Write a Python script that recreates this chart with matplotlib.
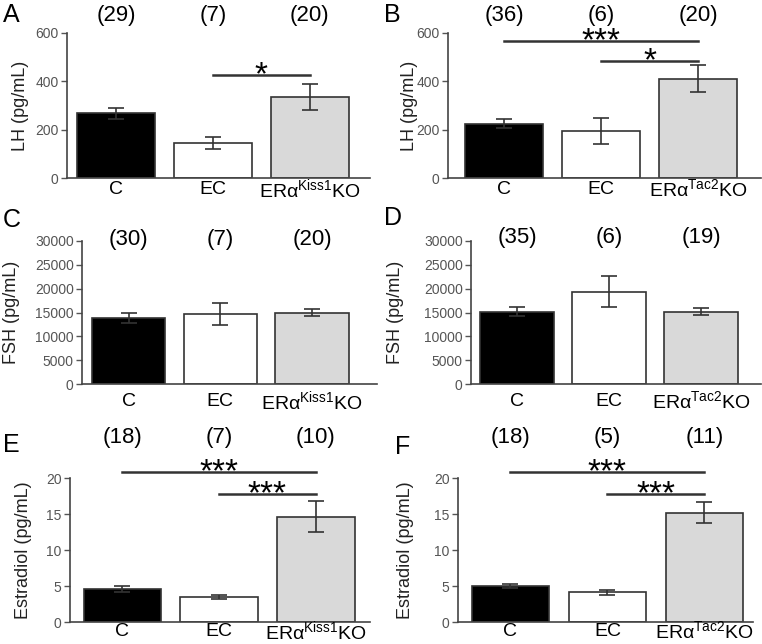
import matplotlib
matplotlib.use('Agg')
import matplotlib.pyplot as plt

plt.rcParams['font.family'] = ['Liberation Sans', 'DejaVu Sans']
plt.rcParams['mathtext.fontset'] = 'custom'
plt.rcParams['mathtext.rm'] = 'Liberation Sans'

W, H = 762, 644

labels_kiss = ['C', 'EC', 'ERα$^{\\mathregular{Kiss1}}$KO']
labels_tac = ['C', 'EC', 'ERα$^{\\mathregular{Tac2}}$KO']

lh_kiss = [268, 143, 335]
lh_kiss_err = [22, 25, 53]
lh_kiss_n = [29, 7, 20]

lh_tac = [225, 195, 410]
lh_tac_err = [18, 55, 56]
lh_tac_n = [36, 6, 20]

fsh_kiss = [13800, 14600, 15000]
fsh_kiss_err = [1000, 2300, 800]
fsh_kiss_n = [30, 7, 20]

fsh_tac = [15200, 19400, 15200]
fsh_tac_err = [900, 3350, 800]
fsh_tac_n = [35, 6, 19]

e2_kiss = [4.6, 3.45, 14.6]
e2_kiss_err = [0.4, 0.25, 2.15]
e2_kiss_n = [18, 7, 10]

e2_tac = [5.0, 4.15, 15.2]
e2_tac_err = [0.25, 0.35, 1.5]
e2_tac_n = [18, 5, 11]

# (from bar, to bar, height, stars)
sig_lh_kiss = [(1, 2, 426, '*')]
sig_lh_tac = [(0, 2, 567, '***'), (1, 2, 484, '*')]
sig_e2_kiss = [(0, 2, 20.8, '***'), (1, 2, 17.8, '***')]
sig_e2_tac = [(0, 2, 20.8, '***'), (1, 2, 17.8, '***')]

colors = ['black', 'white', '#d9d9d9']
edge = '#333333'
tick_gray = '#555555'

fig = plt.figure(figsize=(W / 100, H / 100), dpi=100)


def panel(letter, box, xlim, ymax, yticks, ylabel, ylab_x, vals, errs, ns, names,
          sigs, n_y, letter_xy, xlab_y):
    left, right, y0, ytop = box
    ax = fig.add_axes([left / W, 1 - y0 / H, (right - left) / W, (y0 - ytop) / H])
    x = range(len(vals))
    ax.bar(x, vals, width=0.8, color=colors, edgecolor=edge, linewidth=1.2, zorder=2)
    ax.errorbar(x, vals, yerr=errs, fmt='none', ecolor=edge, elinewidth=1.2,
                capsize=6, capthick=1.2, zorder=3)
    ax.set_xlim(*xlim)
    ax.set_ylim(0, ymax)
    ax.set_yticks(yticks)
    ax.set_xticks([])
    for s in ['top', 'right']:
        ax.spines[s].set_visible(False)
    for s in ['left', 'bottom']:
        ax.spines[s].set_color('#444444')
        ax.spines[s].set_linewidth(1.2)
    ax.tick_params(axis='y', colors=tick_gray, labelsize=10, length=4, width=1, pad=2)
    ax.set_ylabel(ylabel, fontsize=13, color='#222222', va='center')
    ax.yaxis.set_label_coords((ylab_x - left) / (right - left), 0.5)
    for i, n in enumerate(ns):
        ax.annotate('(%d)' % n, xy=(i, H - n_y), xycoords=('data', 'figure pixels'),
                    ha='center', va='center', fontsize=16)
        ax.annotate(names[i], xy=(i, H - xlab_y), xycoords=('data', 'figure pixels'),
                    ha='center', va='center', fontsize=14)
    for a, b, y, star in sigs:
        ax.plot([a, b], [y, y], color='#333333', lw=1.8, clip_on=False, zorder=4)
        ax.annotate(star, xy=((a + b) / 2, y), xytext=(0, -9), textcoords='offset pixels',
                    ha='center', va='baseline', fontsize=24, annotation_clip=False)
    fig.text(letter_xy[0] / W, 1 - letter_xy[1] / H, letter, fontsize=18,
             ha='left', va='center')
    return ax


panel('A', (67, 370, 178, 33), (-0.505, 2.62), 600, [0, 200, 400, 600],
      'LH (pg/mL)', 21, lh_kiss, lh_kiss_err, lh_kiss_n, labels_kiss,
      sig_lh_kiss, 15, (3, 15), 190)
panel('B', (448, 761, 178, 33), (-0.58, 2.65), 600, [0, 200, 400, 600],
      'LH (pg/mL)', 409, lh_tac, lh_tac_err, lh_tac_n, labels_tac,
      sig_lh_tac, 15, (384, 15), 190)
panel('C', (82, 377, 384, 241), (-0.51, 2.71), 30000,
      [0, 5000, 10000, 15000, 20000, 25000, 30000],
      'FSH (pg/mL)', 12, fsh_kiss, fsh_kiss_err, fsh_kiss_n, labels_kiss,
      [], 240, (3, 220), 402)
panel('D', (471, 761, 384, 241), (-0.5, 2.65), 30000,
      [0, 5000, 10000, 15000, 20000, 25000, 30000],
      'FSH (pg/mL)', 396, fsh_tac, fsh_tac_err, fsh_tac_n, labels_tac,
      [], 238, (384, 218), 402)
panel('E', (70, 370, 622, 478), (-0.54, 2.56), 20, [0, 5, 10, 15, 20],
      'Estradiol (pg/mL)', 24, e2_kiss, e2_kiss_err, e2_kiss_n, labels_kiss,
      sig_e2_kiss, 438, (3, 445), 632)
panel('F', (458, 753, 622, 478), (-0.54, 2.5), 20, [0, 5, 10, 15, 20],
      'Estradiol (pg/mL)', 406, e2_tac, e2_tac_err, e2_tac_n, labels_tac,
      sig_e2_tac, 438, (395, 447), 632)

fig.savefig('out.png', dpi=100)
